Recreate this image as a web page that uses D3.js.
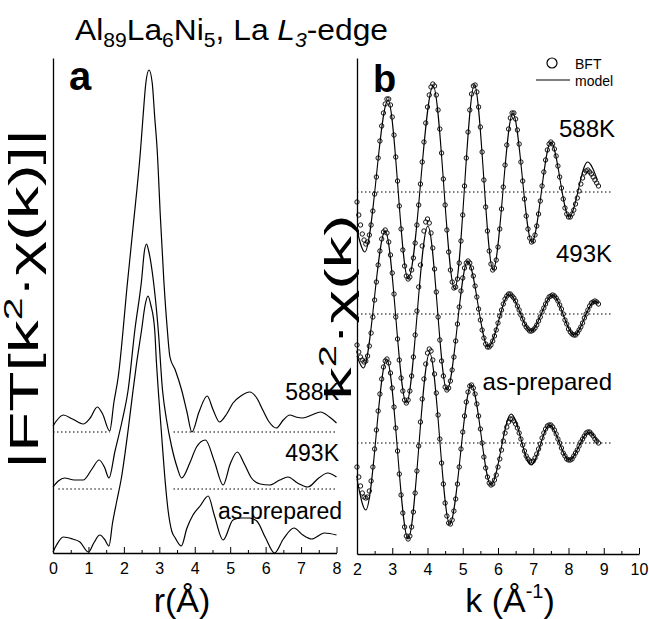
<!DOCTYPE html>
<html><head><meta charset="utf-8">
<script src="https://cdn.jsdelivr.net/npm/d3@7"></script>
<style>
body{margin:0;background:#fff}
svg{display:block}
text{font-family:"Liberation Sans",Arial,Helvetica,sans-serif;fill:#000}
</style>
</head><body>
<svg id="chart" width="649" height="619"></svg>
<script>
// ---------- data ----------
const rTicks = [0,1,2,3,4,5,6,7,8];
const rMinor = [0.5,1.5,2.5,3.5,4.5,5.5,6.5,7.5];
const kTicks = [2,3,4,5,6,7,8,9,10];
const kMinor = [2.5,3.5,4.5,5.5,6.5,7.5,8.5,9.5];
const seriesNames = ["588K","493K","as-prepared"];

// panel a: |FT| offsets and curves [r, value]
const ftOffsets = [1.21, 0.64, 0];
const ft588 = [[0,0.06],[0.29,0.17],[0.55,0.13],[0.85,0.08],[1.05,0.14],[1.25,0.25],[1.40,0.18],[1.60,0.01],[1.72,0.30],[1.84,0.55],[2.10,1.49],[2.26,2.05],[2.47,2.82],[2.54,3.15],[2.62,3.49],[2.71,3.62],[2.80,3.49],[2.87,3.15],[2.94,2.82],[3.03,2.15],[3.13,1.50],[3.22,1.05],[3.30,0.75],[3.45,0.62],[3.63,0.42],[3.78,0.20],[3.92,0.00],[4.12,0.20],[4.35,0.36],[4.52,0.22],[4.70,0.10],[4.90,0.18],[5.08,0.29],[5.30,0.36],[5.55,0.40],[5.75,0.34],[5.92,0.22],[6.10,0.10],[6.30,0.04],[6.50,0.12],[6.68,0.17],[6.85,0.15],[7.05,0.14],[7.30,0.17],[7.55,0.20],[7.80,0.15],[8.00,0.09]];
const ft493 = [[0,0.02],[0.15,0.08],[0.33,0.11],[0.60,0.09],[0.85,0.09],[1.10,0.20],[1.30,0.29],[1.45,0.22],[1.58,0.11],[1.75,0.38],[1.95,0.68],[2.12,0.99],[2.31,1.59],[2.50,2.09],[2.58,2.38],[2.64,2.45],[2.70,2.38],[2.83,2.09],[2.97,1.59],[3.09,0.99],[3.20,0.70],[3.35,0.42],[3.50,0.22],[3.63,0.11],[3.86,0.26],[4.05,0.42],[4.30,0.49],[4.55,0.28],[4.80,0.04],[5.00,0.25],[5.20,0.37],[5.40,0.25],[5.60,0.11],[5.85,0.05],[6.11,0.04],[6.40,0.09],[6.63,0.12],[6.90,0.06],[7.19,0.02],[7.50,0.11],[7.75,0.16],[8.00,0.12]];
const ftAsPrep = [[0,0.01],[0.10,0.08],[0.29,0.16],[0.55,0.14],[0.76,0.11],[1.00,0.01],[1.15,0.10],[1.32,0.18],[1.45,0.14],[1.58,0.07],[1.68,0.30],[1.80,0.52],[1.93,0.75],[2.12,1.23],[2.26,1.63],[2.36,1.90],[2.50,2.23],[2.60,2.48],[2.68,2.57],[2.76,2.48],[2.87,2.23],[2.92,1.90],[2.97,1.63],[3.05,1.25],[3.15,0.78],[3.25,0.42],[3.35,0.22],[3.45,0.15],[3.62,0.07],[3.78,0.25],[3.95,0.38],[4.15,0.47],[4.38,0.57],[4.55,0.38],[4.80,0.13],[5.08,0.33],[5.30,0.35],[5.55,0.35],[5.75,0.32],[6.00,0.15],[6.25,0.00],[6.50,0.14],[6.80,0.25],[7.05,0.18],[7.30,0.14],[7.66,0.20],[8.00,0.18]];
// dotted zero lines in panel a: [r start, r end] per series
const ftZeroSegs = [[[0,1.6],[3.4,8]], [[0.15,1.7],[3.4,8]], []];

// panel b: k^2 chi(k) offsets, model curves [k, value], BFT points on k grid
const chiOffsets = [3.62, 2.40, 1.11];
const chiZeroEnd = 9.2;
const kGridStart = 2.0, kGridStep = 0.05;
const model588 = [[2.00,-0.38],[2.22,-0.60],[2.88,0.92],[3.45,-0.87],[4.16,1.06],[4.77,-0.97],[5.33,1.07],[5.86,-0.78],[6.42,0.79],[6.96,-0.50],[7.50,0.50],[8.02,-0.25],[8.54,0.30],[8.82,0.12]];
const model493 = [[2.00,-0.42],[2.18,-0.54],[2.80,0.83],[3.40,-0.89],[4.01,0.88],[4.55,-0.76],[5.14,0.53],[5.72,-0.33],[6.32,0.20],[6.93,-0.17],[7.55,0.19],[8.16,-0.21],[8.75,0.13],[8.84,0.11]];
const modelAsPrep = [[2.00,-0.36],[2.25,-0.67],[2.84,0.84],[3.45,-0.96],[4.06,0.90],[4.63,-0.81],[5.24,0.58],[5.80,-0.42],[6.37,0.29],[6.94,-0.22],[7.46,0.18],[8.02,-0.17],[8.58,0.11],[8.82,0.02]];
const bft588 = [
-0.10,-0.23,-0.33,-0.42,-0.48,-0.52,-0.50,-0.43,-0.33,-0.19,
-0.02,0.15,0.34,0.51,0.66,0.79,0.88,0.93,0.93,0.87,
0.75,0.57,0.35,0.11,-0.14,-0.37,-0.58,-0.74,-0.84,-0.87,
-0.85,-0.78,-0.66,-0.51,-0.33,-0.13,0.08,0.30,0.50,0.69,
0.85,0.97,1.05,1.08,1.06,0.97,0.82,0.63,0.39,0.13,
-0.13,-0.38,-0.60,-0.78,-0.90,-0.96,-0.95,-0.87,-0.71,-0.49,
-0.23,0.06,0.34,0.60,0.82,0.98,1.06,1.07,1.00,0.85,
0.65,0.40,0.12,-0.15,-0.39,-0.59,-0.72,-0.78,-0.76,-0.68,
-0.55,-0.37,-0.17,0.05,0.27,0.47,0.63,0.74,0.79,0.79,
0.73,0.62,0.48,0.30,0.11,-0.07,-0.24,-0.37,-0.46,-0.50,
-0.49,-0.43,-0.34,-0.22,-0.09,0.06,0.20,0.32,0.42,0.48,
0.50,0.48,0.43,0.36,0.26,0.15,0.04,-0.07,-0.16,-0.22,
-0.25,-0.25,-0.22,-0.18,-0.12,-0.06,0.01,0.08,0.14,0.19,
0.21,0.22,0.20,0.18,0.15,0.12,0.09,0.06];
const bft493 = [
-0.31,-0.38,-0.43,-0.46,-0.48,-0.47,-0.42,-0.32,-0.19,-0.03,
0.14,0.32,0.49,0.63,0.75,0.82,0.84,0.81,0.72,0.59,
0.41,0.20,-0.03,-0.25,-0.46,-0.64,-0.77,-0.86,-0.89,-0.86,
-0.77,-0.62,-0.43,-0.21,0.03,0.27,0.49,0.68,0.83,0.92,
0.95,0.91,0.81,0.66,0.45,0.22,-0.03,-0.26,-0.47,-0.62,
-0.73,-0.76,-0.74,-0.67,-0.56,-0.43,-0.27,-0.10,0.07,0.23,
0.36,0.46,0.51,0.53,0.51,0.46,0.38,0.28,0.17,0.05,
-0.06,-0.16,-0.24,-0.30,-0.33,-0.33,-0.31,-0.27,-0.22,-0.16,
-0.09,-0.02,0.04,0.10,0.15,0.18,0.20,0.20,0.18,0.16,
0.13,0.08,0.04,-0.01,-0.05,-0.10,-0.13,-0.15,-0.17,-0.17,
-0.16,-0.14,-0.11,-0.07,-0.03,0.02,0.06,0.10,0.14,0.17,
0.18,0.19,0.18,0.16,0.13,0.09,0.05,0.00,-0.06,-0.10,
-0.15,-0.18,-0.20,-0.21,-0.21,-0.19,-0.16,-0.13,-0.09,-0.04,
0.00,0.04,0.08,0.11,0.12,0.13,0.12,0.10];
const bftAsPrep = [
-0.24,-0.34,-0.43,-0.50,-0.54,-0.55,-0.54,-0.48,-0.38,-0.24,
-0.06,0.13,0.32,0.49,0.64,0.76,0.82,0.84,0.80,0.70,
0.55,0.36,0.15,-0.08,-0.31,-0.52,-0.70,-0.84,-0.93,-0.96,
-0.93,-0.84,-0.69,-0.50,-0.28,-0.03,0.21,0.44,0.64,0.79,
0.90,0.94,0.92,0.83,0.69,0.50,0.28,0.04,-0.20,-0.41,
-0.60,-0.73,-0.80,-0.81,-0.77,-0.68,-0.56,-0.41,-0.24,-0.06,
0.11,0.27,0.41,0.51,0.57,0.58,0.55,0.49,0.39,0.27,
0.14,0.00,-0.14,-0.25,-0.34,-0.40,-0.42,-0.41,-0.37,-0.32,
-0.24,-0.16,-0.07,0.02,0.10,0.16,0.21,0.24,0.24,0.22,
0.19,0.15,0.10,0.04,-0.02,-0.08,-0.13,-0.16,-0.18,-0.19,
-0.18,-0.15,-0.11,-0.06,-0.01,0.05,0.10,0.14,0.17,0.18,
0.18,0.16,0.13,0.09,0.04,0.00,-0.05,-0.10,-0.13,-0.16,
-0.17,-0.17,-0.16,-0.13,-0.10,-0.07,-0.03,0.01,0.04,0.07,
0.10,0.11,0.11,0.09,0.07,0.04,0.02,0.00];

const titleParts = [["Al","n"],["89","sub"],["La","n"],["6","sub"],["Ni","n"],["5","sub"],[", La ","n"],["L","it"],["3","itsub"],["-edge","n"]];
const legendLabels = ["BFT","model"];

// ---------- drawing ----------
const svg = d3.select("#chart");
const xa = d3.scaleLinear([0,8],[53,336.5]);
const ya = d3.scaleLinear([0,4.95],[553,58]);
const xb = d3.scaleLinear([2,10],[357,639]);
const yb = d3.scaleLinear([0,4.96],[554,58]);

// title
const tt = svg.append("text").attr("x",75).attr("y",40).attr("font-size",30)
  .attr("textLength",313).attr("lengthAdjust","spacingAndGlyphs");
let prevSub = false;
titleParts.forEach(([s,t])=>{
  const sub = t==="sub"||t==="itsub";
  const sp = tt.append("tspan").text(s);
  if (sub) sp.attr("font-size",20);
  if (t==="it"||t==="itsub") sp.attr("font-style","italic");
  if (sub && !prevSub) sp.attr("dy",7);
  if (!sub && prevSub) sp.attr("dy",-7);
  prevSub = sub;
});

function drawAxes(g, x, y, ticks, minor, x0, yBottom){
  const ax = d3.axisBottom(x).tickValues(ticks).tickSize(-6).tickSizeOuter(0).tickPadding(10).tickFormat(d3.format("d"));
  const gx = g.append("g").attr("transform",`translate(0,${yBottom})`).call(ax);
  gx.select(".domain").attr("stroke","#000").attr("stroke-width",1.3);
  gx.selectAll(".tick line").attr("stroke","#000").attr("stroke-width",1);
  gx.selectAll(".tick text").attr("font-size",16).attr("fill","#333")
    .style("font-family",'"Liberation Sans",Arial,sans-serif');
  const am = d3.axisBottom(x).tickValues(minor).tickSize(-3).tickSizeOuter(0).tickFormat("");
  const gm = g.append("g").attr("transform",`translate(0,${yBottom})`).call(am);
  gm.select(".domain").remove();
  gm.selectAll(".tick line").attr("stroke","#000").attr("stroke-width",1);
  const ayAxis = d3.axisLeft(y).tickValues([]).tickSizeOuter(0);
  const gy = g.append("g").attr("transform",`translate(${x0},0)`).call(ayAxis);
  gy.select(".domain").attr("stroke","#000").attr("stroke-width",1.3);
}

// ---- panel a ----
const ga = svg.append("g");
drawAxes(ga, xa, ya, rTicks, rMinor, 53, 553);
const ftCurves = [ft588, ft493, ftAsPrep];
const lineA = (off)=> d3.line().x(d=>xa(d[0])).y(d=>ya(d[1]+off)).curve(d3.curveMonotoneX);
ftCurves.forEach((c,i)=>{
  ga.append("path").attr("d", lineA(ftOffsets[i])(c))
    .attr("fill","none").attr("stroke","#000").attr("stroke-width",1.2);
  ftZeroSegs[i].forEach(seg=>{
    ga.append("line").attr("x1",xa(seg[0])).attr("x2",xa(seg[1]))
      .attr("y1",ya(ftOffsets[i])).attr("y2",ya(ftOffsets[i]))
      .attr("stroke","#000").attr("stroke-width",1).attr("stroke-dasharray","1.5,2.5");
  });
});
const ftLabelY = [400, 461, 519];
seriesNames.forEach((s,i)=>{
  ga.append("text").attr("x", i===2?342:339).attr("y",ftLabelY[i]).attr("text-anchor","end")
    .attr("font-size",23).text(s);
});
ga.append("text").attr("x",69).attr("y",90).attr("font-size",40).attr("font-weight","bold").text("a");
// y label
const yla = ga.append("text").attr("transform","translate(38,299) rotate(-90)").attr("text-anchor","middle")
  .attr("font-size",40).attr("textLength",340).attr("lengthAdjust","spacingAndGlyphs");
yla.append("tspan").text("|FT[k");
yla.append("tspan").attr("font-size",25).attr("dy",-16).text("2");
yla.append("tspan").attr("dy",16).text("·χ(k)]|");
// x label
ga.append("text").attr("x",182).attr("y",612).attr("text-anchor","middle").attr("font-size",34).text("r(Å)");

// ---- panel b ----
const gb = svg.append("g");
drawAxes(gb, xb, yb, kTicks, kMinor, 357, 554);
const models = [model588, model493, modelAsPrep];
const bfts = [bft588, bft493, bftAsPrep];
const lineB = (off)=> d3.line().x(d=>xb(d[0])).y(d=>yb(d[1]+off)).curve(d3.curveMonotoneX);
models.forEach((m,i)=>{
  gb.append("line").attr("x1",xb(2)).attr("x2",xb(chiZeroEnd))
    .attr("y1",yb(chiOffsets[i])).attr("y2",yb(chiOffsets[i]))
    .attr("stroke","#000").attr("stroke-width",1).attr("stroke-dasharray","1.5,2.5");
  gb.append("path").attr("d", lineB(chiOffsets[i])(m))
    .attr("fill","none").attr("stroke","#000").attr("stroke-width",1.1);
  gb.append("g").selectAll("circle").data(bfts[i]).join("circle")
    .attr("cx",(d,j)=>xb(kGridStart + j*kGridStep))
    .attr("cy",d=>yb(d+chiOffsets[i]))
    .attr("r",2.2).attr("fill","none").attr("stroke","#000").attr("stroke-width",0.9);
});
const chiLabelX = [615, 612, 612];
const chiLabelY = [137, 262, 390];
seriesNames.forEach((s,i)=>{
  gb.append("text").attr("x",chiLabelX[i]).attr("y",chiLabelY[i]).attr("text-anchor","end")
    .attr("font-size",24).text(s);
});
gb.append("text").attr("x",373).attr("y",92).attr("font-size",38).attr("font-weight","bold").text("b");
// legend
gb.append("circle").attr("cx",552).attr("cy",63).attr("r",5).attr("fill","none").attr("stroke","#000").attr("stroke-width",1.2);
gb.append("text").attr("x",575).attr("y",69).attr("font-size",14).text(legendLabels[0]);
gb.append("line").attr("x1",536).attr("x2",570).attr("y1",80).attr("y2",80).attr("stroke","#000").attr("stroke-width",1.2);
gb.append("text").attr("x",575).attr("y",86).attr("font-size",14).text(legendLabels[1]);
// y label
const ylb = gb.append("text").attr("transform","translate(351,307) rotate(-90)").attr("text-anchor","middle")
  .attr("font-size",37).attr("textLength",185).attr("lengthAdjust","spacingAndGlyphs");
ylb.append("tspan").text("k");
ylb.append("tspan").attr("font-size",23).attr("dy",-15).text("2");
ylb.append("tspan").attr("dy",15).text("·χ(k)");
// x label
const xlb = gb.append("text").attr("x",510).attr("y",612).attr("text-anchor","middle").attr("font-size",34);
xlb.append("tspan").text("k (Å");
xlb.append("tspan").attr("font-size",20).attr("dy",-14).text("-1");
xlb.append("tspan").attr("dy",14).text(")");
</script>
</body></html>
